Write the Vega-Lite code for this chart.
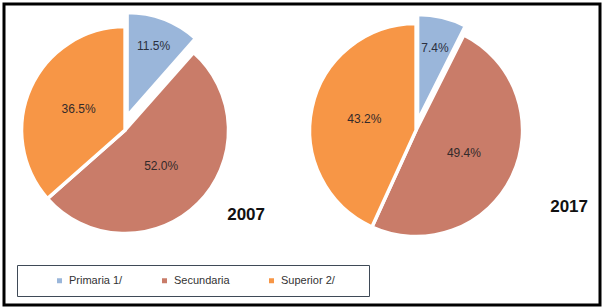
{
  "$schema": "https://vega.github.io/schema/vega-lite/v6.json",
  "width": 604,
  "height": 308,
  "autosize": {"type": "fit", "contains": "padding"},
  "padding": {"left": 4, "top": 4, "right": 4, "bottom": 3},
  "background": "white",
  "config": {"view": {"stroke": "#000000", "strokeWidth": 3}, "font": "Liberation Sans"},
  "data": {"values": [
    {"anio": "2007", "nivel": "Primaria 1/", "pct": 0.115},
    {"anio": "2007", "nivel": "Secundaria", "pct": 0.52},
    {"anio": "2007", "nivel": "Superior 2/", "pct": 0.365},
    {"anio": "2017", "nivel": "Primaria 1/", "pct": 0.074},
    {"anio": "2017", "nivel": "Secundaria", "pct": 0.494},
    {"anio": "2017", "nivel": "Superior 2/", "pct": 0.432}
  ]},
  "encoding": {
    "x": {"field": "anio", "type": "nominal", "axis": null, "scale": {"type": "point", "domain": ["2007", "2017"], "padding": 0.524, "align": 0.397}},
    "y": {"datum": 0, "type": "quantitative", "axis": null, "scale": {"domain": [-0.581, 0.419], "nice": false, "zero": false}}
  },
  "layer": [
    {
      "mark": {"type": "arc", "stroke": "white", "strokeWidth": 3.5},
      "encoding": {
        "theta": {"field": "pct", "type": "quantitative", "stack": true, "scale": {"domain": [0, 1]}},
        "radius": {"field": "anio", "type": "nominal", "legend": null, "scale": {"type": "point", "domain": ["2007", "2017"], "range": [103.5, 106.5], "padding": 0}},
        "radius2": {"value": 0},
        "order": {"field": "nivel", "sort": "ascending"},
        "color": {
          "field": "nivel", "type": "nominal",
          "scale": {"domain": ["Primaria 1/", "Secundaria", "Superior 2/"], "range": ["#9ab6da", "#c97c69", "#f79646"]},
          "legend": {
            "orient": "none", "legendX": 13, "legendY": 261, "direction": "horizontal",
            "title": "\u00a0", "titleOrient": "left", "titlePadding": 27, "titleFontSize": 10,
            "padding": 10, "strokeColor": "#3f4a57", "fillColor": "white",
            "symbolType": "square", "symbolSize": 25, "symbolStrokeWidth": 0,
            "labelFontSize": 11, "labelColor": "#333333", "labelOffset": 4, "columnPadding": 36,
            "labelExpr": "datum.label === 'Superior 2/' ? datum.label + '\u2800\u2800\u2800' : datum.label",
            "encode": {"symbols": {"update": {"stroke": {"value": "transparent"}, "strokeWidth": {"value": 0}}}}
          }
        },
        "opacity": {"condition": {"test": "datum.nivel === 'Primaria 1/'", "value": 0}, "value": 1}
      }
    },
    {
      "transform": [{"filter": "datum.anio === '2007' && datum.nivel === 'Primaria 1/'"}],
      "mark": {"type": "arc", "stroke": "white", "strokeWidth": 3.5, "radius": 103.5, "radius2": 0, "xOffset": 2, "yOffset": -14},
      "encoding": {
        "theta": {"field": "pct", "type": "quantitative", "stack": true, "scale": {"domain": [0, 1]}},
        "color": {"field": "nivel", "type": "nominal"}
      }
    },
    {
      "transform": [{"filter": "datum.anio === '2017' && datum.nivel === 'Primaria 1/'"}],
      "mark": {"type": "arc", "stroke": "white", "strokeWidth": 3.5, "radius": 106.5, "radius2": 0, "xOffset": 1.5, "yOffset": -9},
      "encoding": {
        "theta": {"field": "pct", "type": "quantitative", "stack": true, "scale": {"domain": [0, 1]}},
        "color": {"field": "nivel", "type": "nominal"}
      }
    },
    {
      "mark": {"type": "text", "fontSize": 12, "color": "#332a2a", "baseline": "middle", "align": "center"},
      "encoding": {
        "theta": {"field": "pct", "type": "quantitative", "stack": true, "scale": {"domain": [0, 1]}},
        "radius": {"field": "anio", "type": "nominal", "legend": null, "scale": {"type": "point", "domain": ["2007", "2017"], "range": [51, 53], "padding": 0}},
        "order": {"field": "nivel", "sort": "ascending"},
        "detail": {"field": "nivel"},
        "text": {"field": "pct", "type": "quantitative", "format": ".1%"},
        "opacity": {"condition": {"test": "datum.nivel === 'Primaria 1/'", "value": 0}, "value": 1}
      }
    },
    {
      "transform": [{"filter": "datum.anio === '2007' && datum.nivel === 'Primaria 1/'"}],
      "mark": {"type": "text", "fontSize": 12, "color": "#2a3040", "baseline": "middle", "align": "center", "radius": 75, "xOffset": 2, "yOffset": -14},
      "encoding": {
        "theta": {"field": "pct", "type": "quantitative", "stack": true, "scale": {"domain": [0, 1]}},
        "text": {"field": "pct", "type": "quantitative", "format": ".1%"}
      }
    },
    {
      "transform": [{"filter": "datum.anio === '2017' && datum.nivel === 'Primaria 1/'"}],
      "mark": {"type": "text", "fontSize": 12, "color": "#2a3040", "baseline": "middle", "align": "center", "radius": 75, "xOffset": 1.5, "yOffset": -9},
      "encoding": {
        "theta": {"field": "pct", "type": "quantitative", "stack": true, "scale": {"domain": [0, 1]}},
        "text": {"field": "pct", "type": "quantitative", "format": ".1%"}
      }
    },
    {
      "transform": [{"filter": "datum.anio === '2007' && datum.nivel === 'Primaria 1/'"}],
      "mark": {"type": "text", "fontSize": 17, "fontWeight": "bold", "color": "#111111", "baseline": "middle", "align": "center", "dx": 121, "dy": 85},
      "encoding": {"text": {"field": "anio", "type": "nominal"}}
    },
    {
      "transform": [{"filter": "datum.anio === '2017' && datum.nivel === 'Primaria 1/'"}],
      "mark": {"type": "text", "fontSize": 17, "fontWeight": "bold", "color": "#111111", "baseline": "middle", "align": "center", "dx": 153, "dy": 77},
      "encoding": {"text": {"field": "anio", "type": "nominal"}}
    }
  ],
  "resolve": {"scale": {"radius": "independent"}}
}
